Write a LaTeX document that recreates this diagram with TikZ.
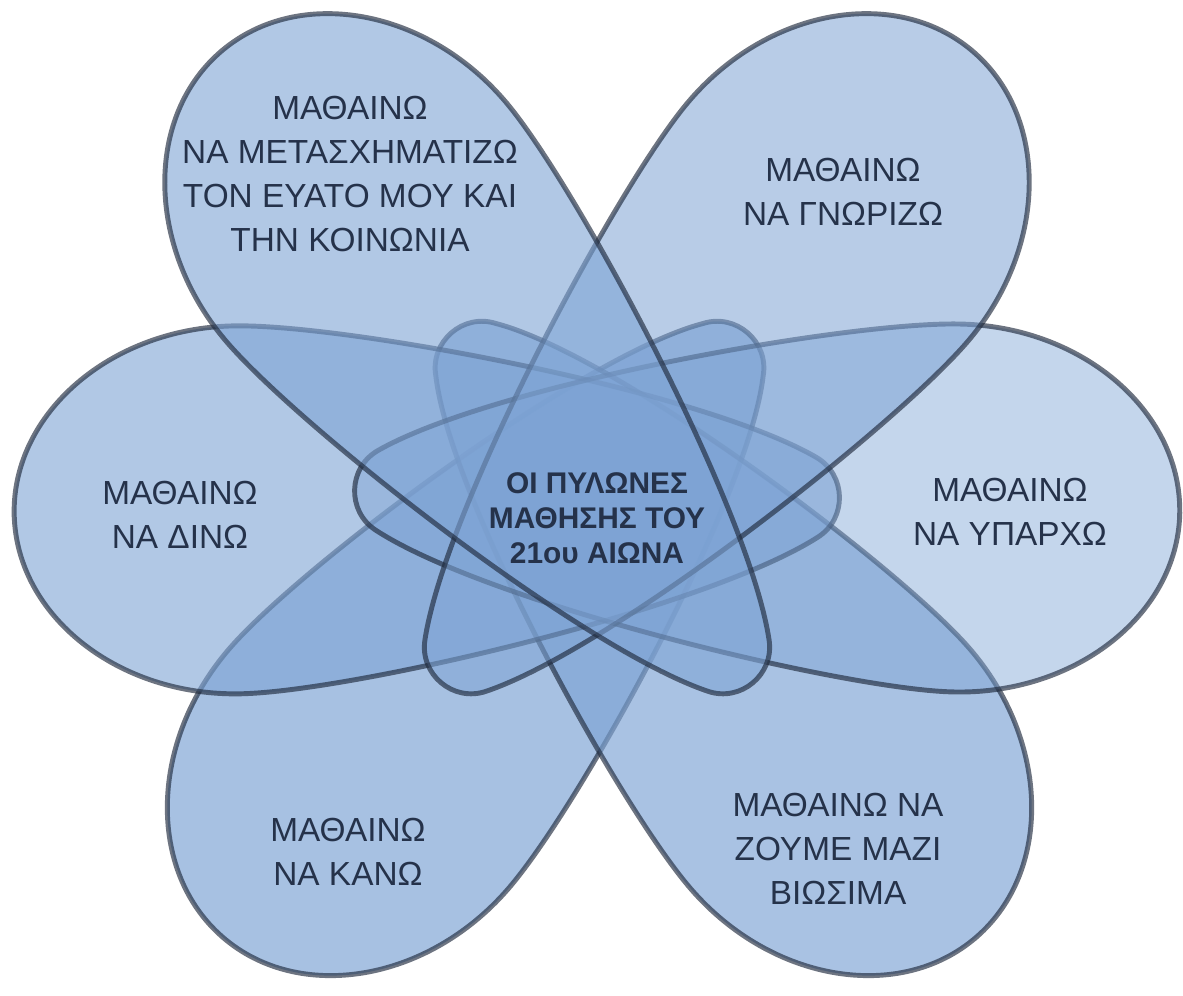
\documentclass[tikz,border=0pt]{standalone}
\usepackage{fontspec}
\setmainfont{Liberation Sans}
\definecolor{petalblue}{HTML}{7DA3D4}
\definecolor{edgenavy}{HTML}{1F2A3D}
\definecolor{labelnavy}{HTML}{25324A}
\tikzset{
  pics/petal/.style={code={
    \draw[line width=2.8pt, draw=edgenavy, draw opacity=.65, fill=petalblue]
      (583,0) .. controls (583,101) and (483,184) .. (360,184)
      .. controls (250,184) and ({-105+#1/2},110) .. ({-220+#1},40)
      .. controls ({-250+#1},22) and ({-250+#1},-22) .. ({-220+#1},-40)
      .. controls ({-105+#1/2},-110) and (250,-184) .. (360,-184)
      .. controls (483,-184) and (583,-101) .. cycle;
  }},
  lbl/.style={align=center, text=labelnavy, font=\fontsize{19}{25}\selectfont}
}
\begin{document}
\begin{tikzpicture}[x=0.02cm, y=-0.02cm]
  \useasboundingbox (0,0) rectangle (1183,996);
  \pic[rotate=229, fill opacity=.68] at (605,497) {petal=25};
  \pic[rotate=311, fill opacity=.66] at (594,497) {petal=25};
  \pic[rotate=181.25, fill opacity=.6] at (597,502) {petal=0};
  \pic[rotate=-1.75, fill opacity=.45] at (597,497) {petal=0};
  \pic[rotate=50, fill opacity=.55] at (597,497) {petal=0};
  \pic[rotate=130, fill opacity=.6] at (597,497) {petal=0};
  \node[lbl] (transform) at (350,174) {ΜΑΘΑΙΝΩ\\ΝΑ ΜΕΤΑΣΧΗΜΑΤΙΖΩ\\ΤΟΝ ΕΥΑΤΟ ΜΟΥ ΚΑΙ\\ΤΗΝ ΚΟΙΝΩΝΙΑ};
  \node[lbl] (know) at (843,192) {ΜΑΘΑΙΝΩ\\ΝΑ ΓΝΩΡΙΖΩ};
  \node[lbl] (give) at (180,515) {ΜΑΘΑΙΝΩ\\ΝΑ ΔΙΝΩ};
  \node[lbl] (exist) at (1010,512) {ΜΑΘΑΙΝΩ\\ΝΑ ΥΠΑΡΧΩ};
  \node[lbl] (do) at (348,852) {ΜΑΘΑΙΝΩ\\ΝΑ ΚΑΝΩ};
  \node[lbl] (together) at (838,849) {ΜΑΘΑΙΝΩ ΝΑ\\ΖΟΥΜΕ ΜΑΖΙ\\ΒΙΩΣΙΜΑ};
  \node[align=center, text=labelnavy, font=\bfseries\fontsize{17}{20}\selectfont]
    (pillars) at (597,518) {ΟΙ ΠΥΛΩΝΕΣ\\ΜΑΘΗΣΗΣ ΤΟΥ\\21ου ΑΙΩΝΑ};
\end{tikzpicture}
\end{document}
